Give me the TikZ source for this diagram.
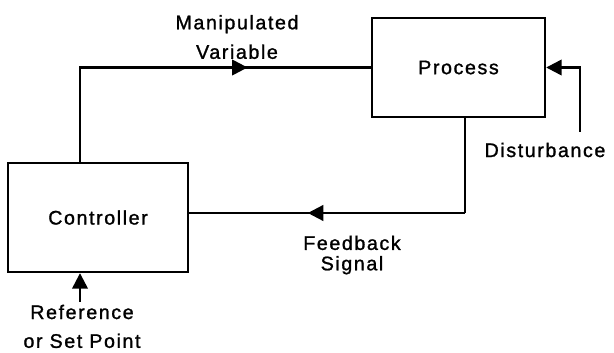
\documentclass[tikz,border=0pt]{standalone}
\usepackage{fontspec}
\newfontfamily\lblfont{Liberation Sans}[LetterSpace=8, FakeBold=1.2]
\usetikzlibrary{arrows.meta,positioning,calc,decorations.markings}

\begin{document}
\begin{tikzpicture}[
    box/.style={rectangle, draw=black, line width=1.7pt, inner sep=0pt, font={\lblfont\fontsize{14}{17}\selectfont}},
    lbl/.style={align=center, inner sep=0pt, font={\lblfont\fontsize{14}{#1}\selectfont}},
    line/.style={draw, line width=1.7pt},
    arr/.style={line, -{Triangle[length=11pt, width=11pt]}},
    midtip/.style={postaction={decorate}, decoration={markings, mark=at position #1 with {\arrow{Triangle[length=11pt, width=11pt]}}}}]

    \useasboundingbox (0,0) rectangle (15.35,8.8);

    % the two blocks of the loop
    \node [box, minimum width=4.325cm, minimum height=2.475cm] (proc) at (11.4625,7.1125) {Process};
    \node [box, minimum width=4.5cm, minimum height=2.725cm] (ctrl) at (2.45,3.3625) {Controller};

    % signal names
    \node [lbl=21pt] (mv) at (5.925,7.875) {Manipulated\\Variable};
    \node [lbl=14.5pt] (fbl) at (8.8,2.425) {Feedback\\Signal};
    \node [lbl=17pt] (dstl) at (13.625,5.05) {Disturbance};
    \node [lbl=20.5pt] (refl) at (2.05,0.64) {Reference\\or Set Point};

    % bends and free ends of the lines
    \coordinate (mvx) at (2.0,0);
    \coordinate (fbx) at (11.625,3.475);
    \coordinate (dst) at (14.5,5.5);
    \coordinate (sp) at (2.0,1.25);

    \draw [line, midtip=0.68] (ctrl.north -| mvx) |- (proc.west);
    \draw [line] (proc.south -| fbx) -- (fbx);
    \draw [line, midtip=0.57] (fbx) -- (fbx -| ctrl.east);
    \draw [arr] (dst) |- (proc.east);
    \draw [arr] (sp) -- (sp |- ctrl.south);
\end{tikzpicture}
\end{document}
